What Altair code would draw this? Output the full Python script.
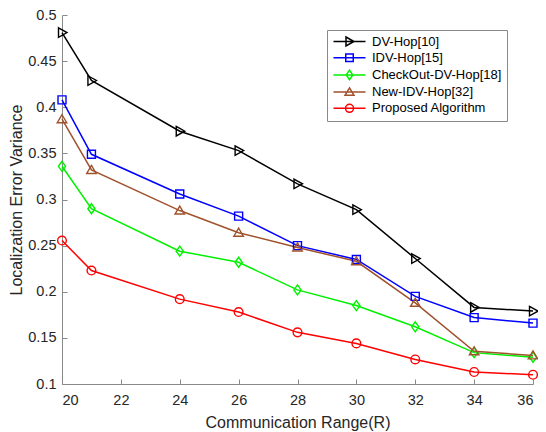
import altair as alt
import pandas as pd

# ---- data ----
comm_range = [20, 21, 24, 26, 28, 30, 32, 34, 36]
series_names = ["DV-Hop[10]", "IDV-Hop[15]", "CheckOut-DV-Hop[18]",
                "New-IDV-Hop[32]", "Proposed Algorithm"]
dv_hop = [0.481, 0.429, 0.374, 0.353, 0.317, 0.289, 0.236, 0.183, 0.179]
idv_hop = [0.408, 0.349, 0.306, 0.282, 0.250, 0.235, 0.195, 0.172, 0.166]
checkout_dv_hop = [0.336, 0.290, 0.244, 0.232, 0.202, 0.185, 0.162, 0.134, 0.129]
new_idv_hop = [0.387, 0.332, 0.288, 0.264, 0.248, 0.233, 0.188, 0.1355, 0.131]
proposed = [0.2555, 0.223, 0.192, 0.178, 0.156, 0.144, 0.1266, 0.113, 0.110]
all_series = [dv_hop, idv_hop, checkout_dv_hop, new_idv_hop, proposed]

x_ticks = [20, 22, 24, 26, 28, 30, 32, 34, 36]
y_ticks = [0.1, 0.15, 0.2, 0.25, 0.3, 0.35, 0.4, 0.45, 0.5]

# ---- styles ----
colors = ["#000000", "#0000FF", "#00F000", "#A0522D", "#FF0000"]
marker_paths = [
    "M-0.7,-0.95L1,0L-0.7,0.95Z",
    "M-0.8,-0.8H0.8V0.8H-0.8Z",
    "M0,-1L0.72,0L0,1L-0.72,0Z",
    "M0,-0.9L0.95,0.7L-0.95,0.7Z",
    "M-0.87,0A0.87,0.87 0 1,0 0.87,0A0.87,0.87 0 1,0 -0.87,0Z",
]
# legend symbols (size 100 -> 1 unit = 5px): a 32px line with the marker
# at its middle, drawn from the symbol's left edge
legend_paths = [
    "M-1,0H5.4M1.5,-0.9L3.1,0L1.5,0.9Z",
    "M-1,0H5.4M1.45,-0.75H2.95V0.75H1.45Z",
    "M-1,0H5.4M2.2,-0.95L2.85,0L2.2,0.95L1.55,0Z",
    "M-1,0H5.4M2.2,-0.85L3.1,0.65L1.3,0.65Z",
    "M-1,0H5.4M1.4,0A0.8,0.8 0 1,0 3.0,0A0.8,0.8 0 1,0 1.4,0Z",
]

rows = []
for name, vals in zip(series_names, all_series):
    for xv, yv in zip(comm_range, vals):
        rows.append({"R": xv, "v": yv, "series": name})
df = pd.DataFrame(rows)

FONT = "Liberation Sans"
TXT = "#262626"
AX = "#8a8a8a"

x_scale = alt.Scale(domain=[20, 36], nice=False, zero=False)
y_scale = alt.Scale(domain=[0.1, 0.5], nice=False, zero=False)
color_scale = alt.Scale(domain=series_names, range=colors)

x_main = alt.X("R:Q", scale=x_scale, axis=alt.Axis(
    values=x_ticks, title="Communication Range(R)", ticks=False, tickSize=0,
    labelPadding=9, titlePadding=8, grid=False))
y_main = alt.Y("v:Q", scale=y_scale, axis=alt.Axis(
    values=y_ticks, format=".2~f", title="Localization Error Variance",
    ticks=False, tickSize=0, labelPadding=6, titlePadding=3, grid=False))

x_plain = alt.X("R:Q", scale=x_scale, axis=None)
y_plain = alt.Y("v:Q", scale=y_scale, axis=None)

legend_def = alt.Legend(
    title=None, orient="none", legendX=265, legendY=15,
    symbolSize=100, symbolStrokeWidth=1.5, labelFontSize=13,
    labelFont=FONT, labelColor="#000000", labelOffset=27, rowPadding=1.2,
    padding=5, strokeColor=AX, fillColor="#FFFFFF", symbolOffset=0)

# legend-only layer (draws no marks), placed first so its legend settings win
legend_layer = alt.Chart(df).transform_filter("false").mark_point(
    filled=False, strokeWidth=1.5, opacity=1
).encode(
    x=x_plain, y=y_plain,
    color=alt.Color("series:N", scale=color_scale, legend=legend_def),
    shape=alt.Shape("series:N",
                    scale=alt.Scale(domain=series_names, range=legend_paths),
                    legend=legend_def),
)

lines = alt.Chart(df).mark_line(strokeWidth=1.5).encode(
    x=x_main, y=y_main,
    color=alt.Color("series:N", scale=color_scale, legend=None),
)

point_layers = []
for name, path in zip(series_names, marker_paths):
    point_layers.append(
        alt.Chart(df).transform_filter(alt.datum.series == name)
        .mark_point(shape=path, size=100, filled=False, strokeWidth=1.4, opacity=1)
        .encode(x=x_plain, y=y_plain,
                color=alt.Color("series:N", scale=color_scale, legend=None))
    )

# inward ticks (MATLAB style)
tick_layer = alt.Chart(df).mark_point(opacity=0).encode(
    x=alt.X("R:Q", scale=x_scale, axis=alt.Axis(
        orient="bottom", offset=-5, tickSize=5, labels=False, domain=False,
        title=None, values=x_ticks, grid=False, tickColor=AX, tickWidth=1)),
    y=alt.Y("v:Q", scale=y_scale, axis=alt.Axis(
        orient="left", offset=-5, tickSize=5, labels=False, domain=False,
        title=None, values=y_ticks, grid=False, tickColor=AX, tickWidth=1)),
)

chart = alt.layer(legend_layer, lines, *point_layers, tick_layer).resolve_axis(
    x="independent", y="independent"
).properties(
    width=471, height=369,
    autosize=alt.AutoSizeParams(type="none"),
    padding={"left": 54, "top": 7, "right": 5, "bottom": 48},
).configure_view(stroke=None).configure_axis(
    labelFont=FONT, titleFont=FONT, labelFontSize=14.5, titleFontSize=16,
    labelColor=TXT, titleColor=TXT, titleFontWeight="normal",
    domainColor=AX, domainWidth=1,
)

chart.save("out.html", embed_options={"renderer": "svg", "actions": False})
